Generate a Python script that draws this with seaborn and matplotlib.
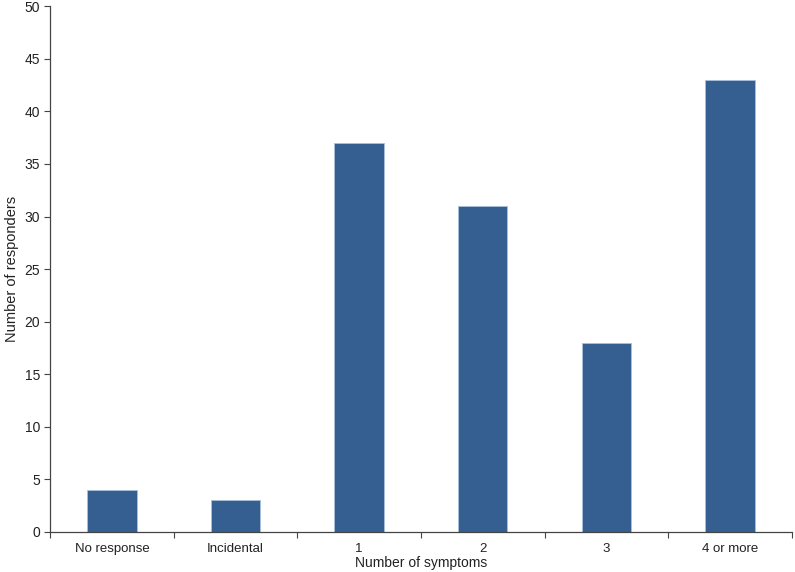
import matplotlib
matplotlib.use("Agg")
import matplotlib.pyplot as plt
import seaborn as sns
import pandas as pd
import numpy as np
from matplotlib.ticker import FixedLocator, MultipleLocator

categories = ["No response", "Incidental", "1", "2", "3", "4 or more"]
responders = [4, 3, 37, 31, 18, 43]

df = pd.DataFrame({"symptoms": categories, "count": responders})

sns.set_style("white")
plt.rcParams["font.family"] = ["Liberation Sans", "DejaVu Sans"]

fig = plt.figure(figsize=(7.95, 5.72), dpi=100)
ax = fig.add_axes([0.063, 0.07, 0.933, 0.919])

sns.barplot(data=df, x="symptoms", y="count", color="#365f91", width=0.4,
            saturation=1, edgecolor="#a9c0dc", linewidth=0.6, ax=ax)

ax.set_xlim(-0.5, len(categories) - 0.5)
ax.set_ylim(0, 50)
ax.yaxis.set_major_locator(MultipleLocator(5))

# ticks sit between the categories, not under the bars
ax.xaxis.set_minor_locator(FixedLocator(np.arange(-0.5, len(categories), 1.0)))
ax.tick_params(axis="x", which="major", length=0, labelsize=9.5, pad=8, colors="#222222")
ax.tick_params(axis="x", which="minor", length=4, width=0.8, direction="out", color="#444444", bottom=True)
ax.tick_params(axis="y", which="major", length=4, width=0.8, direction="out", left=True, labelsize=10, pad=3, colors="#222222")
ax.tick_params(axis="y", color="#444444")

for side in ["top", "right"]:
    ax.spines[side].set_visible(False)
for side in ["left", "bottom"]:
    ax.spines[side].set_color("#444444")
    ax.spines[side].set_linewidth(0.9)

ax.set_xlabel("Number of symptoms", fontsize=10, labelpad=1, color="#222222")
ax.set_ylabel("Number of responders", fontsize=10.5, labelpad=4, color="#222222")

plt.savefig("out.png", dpi=100)
plt.close()
